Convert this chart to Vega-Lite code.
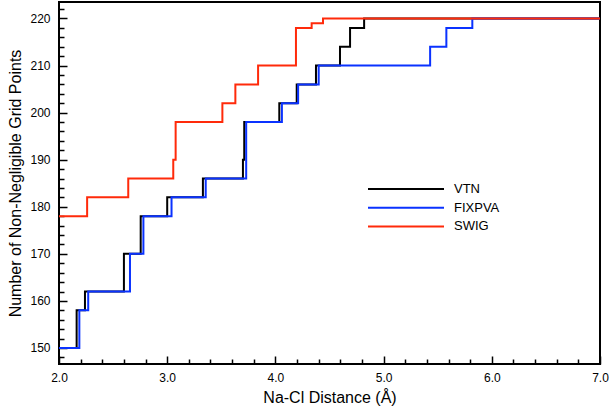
{
  "$schema": "https://vega.github.io/schema/vega-lite/v6.json",
  "width": 541,
  "height": 362,
  "autosize": "none",
  "padding": {"left": 59, "top": 2, "right": 10, "bottom": 47},
  "background": "white",
  "config": {
    "view": {"stroke": "black", "strokeWidth": 2},
    "font": "Liberation Sans"
  },
  "data": {
    "values": [
      {"series": "VTN", "d": 2.0, "n": 150},
      {"series": "VTN", "d": 2.163, "n": 158},
      {"series": "VTN", "d": 2.24, "n": 162},
      {"series": "VTN", "d": 2.6, "n": 170},
      {"series": "VTN", "d": 2.755, "n": 178},
      {"series": "VTN", "d": 3.0, "n": 182},
      {"series": "VTN", "d": 3.33, "n": 186},
      {"series": "VTN", "d": 3.7, "n": 190},
      {"series": "VTN", "d": 3.712, "n": 198},
      {"series": "VTN", "d": 4.036, "n": 202},
      {"series": "VTN", "d": 4.197, "n": 206},
      {"series": "VTN", "d": 4.375, "n": 210},
      {"series": "VTN", "d": 4.597, "n": 214},
      {"series": "VTN", "d": 4.69, "n": 218},
      {"series": "VTN", "d": 4.82, "n": 220},
      {"series": "VTN", "d": 7.0, "n": 220},
      {"series": "FIXPVA", "d": 2.0, "n": 150},
      {"series": "FIXPVA", "d": 2.188, "n": 158},
      {"series": "FIXPVA", "d": 2.27, "n": 162},
      {"series": "FIXPVA", "d": 2.656, "n": 170},
      {"series": "FIXPVA", "d": 2.78, "n": 178},
      {"series": "FIXPVA", "d": 3.04, "n": 182},
      {"series": "FIXPVA", "d": 3.356, "n": 186},
      {"series": "FIXPVA", "d": 3.73, "n": 198},
      {"series": "FIXPVA", "d": 4.06, "n": 202},
      {"series": "FIXPVA", "d": 4.21, "n": 206},
      {"series": "FIXPVA", "d": 4.4, "n": 210},
      {"series": "FIXPVA", "d": 5.43, "n": 214},
      {"series": "FIXPVA", "d": 5.58, "n": 218},
      {"series": "FIXPVA", "d": 5.82, "n": 220},
      {"series": "FIXPVA", "d": 7.0, "n": 220},
      {"series": "SWIG", "d": 2.0, "n": 178},
      {"series": "SWIG", "d": 2.26, "n": 182},
      {"series": "SWIG", "d": 2.64, "n": 186},
      {"series": "SWIG", "d": 3.056, "n": 190},
      {"series": "SWIG", "d": 3.078, "n": 198},
      {"series": "SWIG", "d": 3.51, "n": 202},
      {"series": "SWIG", "d": 3.63, "n": 206},
      {"series": "SWIG", "d": 3.84, "n": 210},
      {"series": "SWIG", "d": 4.19, "n": 218},
      {"series": "SWIG", "d": 4.335, "n": 219},
      {"series": "SWIG", "d": 4.44, "n": 220},
      {"series": "SWIG", "d": 7.0, "n": 220}
    ]
  },
  "mark": {"type": "line", "interpolate": "step-after", "strokeWidth": 2},
  "encoding": {
    "x": {
      "field": "d",
      "type": "quantitative",
      "scale": {"domain": [2, 7], "nice": false, "zero": false},
      "axis": {
        "title": "Na-Cl Distance (Å)",
        "titleFontSize": 16,
        "titleFontWeight": "normal",
        "titleColor": "black",
        "titlePadding": 3,
        "values": [2, 2.2, 2.4, 2.6, 2.8, 3, 3.2, 3.4, 3.6, 3.8, 4, 4.2, 4.4, 4.6, 4.8, 5, 5.2, 5.4, 5.6, 5.8, 6, 6.2, 6.4, 6.6, 6.8, 7],
        "labelExpr": "abs(datum.value - round(datum.value)) < 0.001 ? format(datum.value, '.1f') : ''",
        "labelFontSize": 12,
        "labelColor": "black",
        "labelPadding": 16,
        "labelFlush": false,
        "labelOverlap": false,
        "domain": false,
        "grid": false,
        "tickColor": "black",
        "tickWidth": 1.5,
        "tickSize": {"condition": {"test": "abs(datum.value - round(datum.value)) < 0.001", "value": -8}, "value": -5}
      }
    },
    "y": {
      "field": "n",
      "type": "quantitative",
      "scale": {"domain": [146.6, 223.5], "nice": false, "zero": false},
      "axis": {
        "title": "Number of Non-Negligible Grid Points",
        "titleFontSize": 16,
        "titleFontWeight": "normal",
        "titleColor": "black",
        "titlePadding": 6,
        "values": [148, 150, 152, 154, 156, 158, 160, 162, 164, 166, 168, 170, 172, 174, 176, 178, 180, 182, 184, 186, 188, 190, 192, 194, 196, 198, 200, 202, 204, 206, 208, 210, 212, 214, 216, 218, 220, 222],
        "labelExpr": "datum.value % 10 === 0 ? format(datum.value, 'd') : ''",
        "labelFontSize": 12,
        "labelColor": "black",
        "labelPadding": 17,
        "labelFlush": false,
        "labelOverlap": false,
        "domain": false,
        "grid": false,
        "tickColor": "black",
        "tickWidth": 1.5,
        "tickSize": {"condition": {"test": "datum.value % 10 === 0", "value": -8}, "value": -5}
      }
    },
    "color": {
      "field": "series",
      "type": "nominal",
      "sort": ["VTN", "FIXPVA", "SWIG"],
      "scale": {"domain": ["VTN", "FIXPVA", "SWIG"], "range": ["#000000", "#0a32ff", "#ff2a0a"]},
      "legend": {
        "title": null,
        "orient": "none",
        "legendX": 308,
        "legendY": 179,
        "padding": 0,
        "symbolType": "stroke",
        "symbolSize": 5776,
        "symbolStrokeWidth": 2,
        "clipHeight": 16,
        "rowPadding": 2.7,
        "labelFontSize": 13,
        "labelColor": "black",
        "labelOffset": 9
      }
    }
  }
}
